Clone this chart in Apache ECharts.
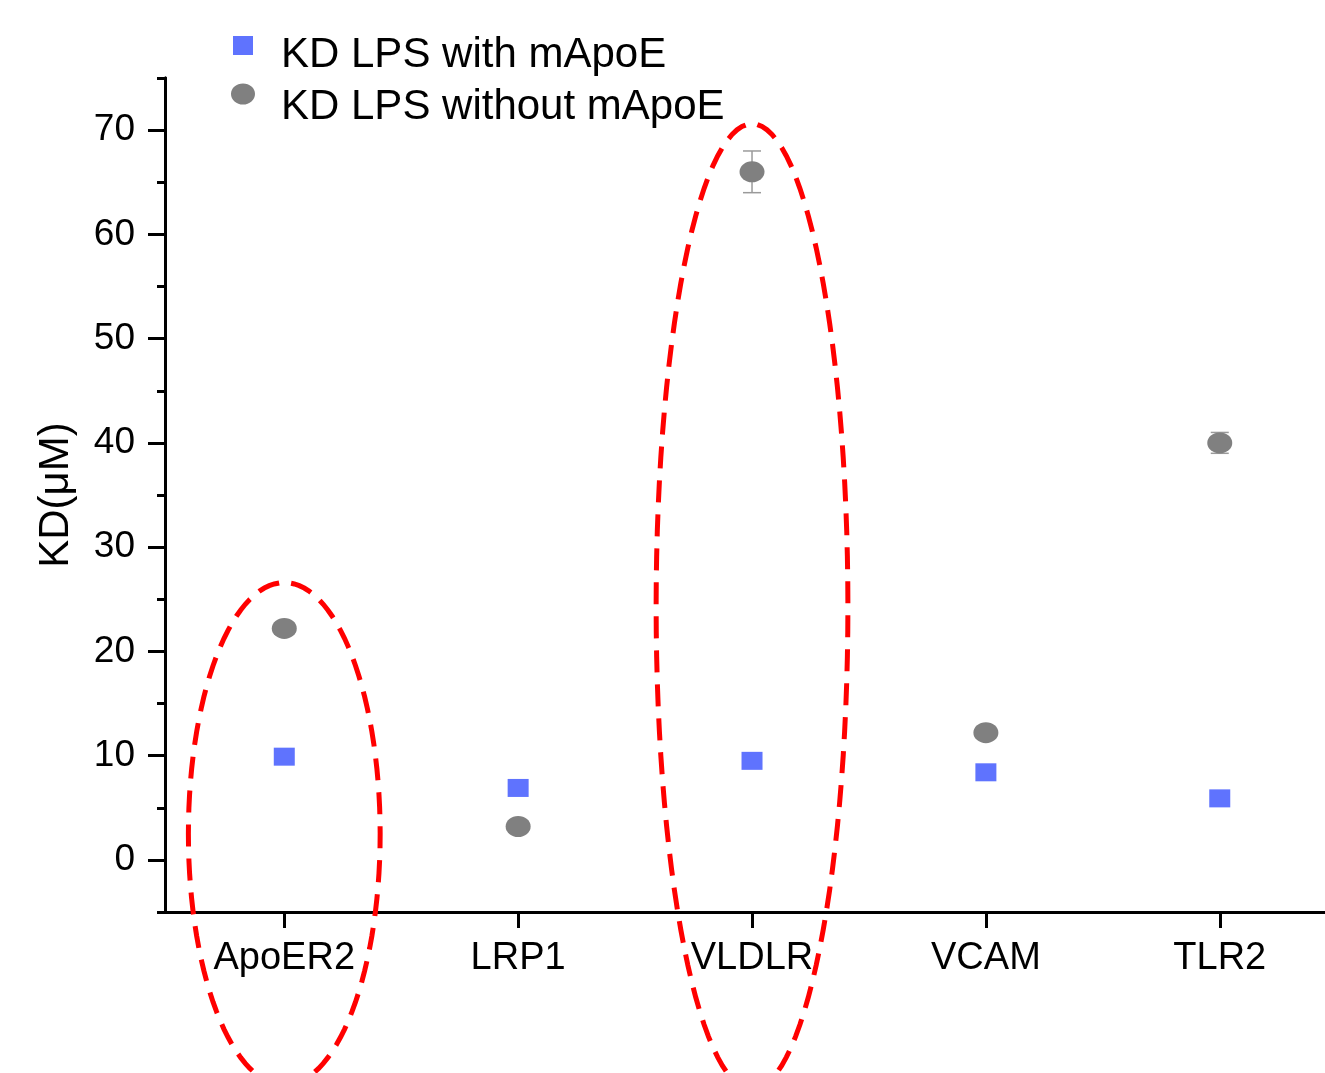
<!DOCTYPE html>
<html>
<head>
<meta charset="utf-8">
<script src="https://cdn.jsdelivr.net/npm/echarts@6/dist/echarts.min.js"></script>
<style>html,body{margin:0;padding:0;background:#fff}#main{width:1325px;height:1073px}</style>
</head>
<body>
<div id="main"></div>
<script>
var categories = ['ApoER2', 'LRP1', 'VLDLR', 'VCAM', 'TLR2'];
var withApoE = [9.9, 6.9, 9.5, 8.4, 5.9];
var withoutApoE = [22.2, 3.2, 66.0, 12.2, 40.0];
var withoutErr = [0, 0, 2.0, 0, 1.0];
var majorTicks = [0, 10, 20, 30, 40, 50, 60, 70];
var minorTicks = [-5, 5, 15, 25, 35, 45, 55, 65, 75];
var catPos = [1, 2, 3, 4, 5];
// dashed rings: category position, centre value, half width, half height
var highlights = [[1, 2.5, 0.41, 24.1], [3, 24.3, 0.41, 46.3]];

var font = 'Liberation Sans, Arial, sans-serif';
var blue = '#5f73fe';
var gray = '#808080';
var ovalPath = 'path://M0,10a12,10 0 1,0 24,0a12,10 0 1,0 -24,0z';
// legend icons sit a little above their text, so pad the icon box with invisible corner points
var legendSquare = 'path://M0,0h0.01M24,50h-0.01M2,6h20v19h-20z';
var legendOval = 'path://M0,0h0.01M24,50h-0.01M0,12a12,10.5 0 1,0 24,0a12,10.5 0 1,0 -24,0z';

var chart = echarts.init(document.getElementById('main'));

var option = {
  animation: false,
  backgroundColor: '#fff',
  grid: { left: 165, right: 0, top: 78, bottom: 161 },
  legend: {
    orient: 'vertical',
    left: 226,
    top: 25,
    itemWidth: 24,
    itemHeight: 50,
    itemGap: 2,
    itemStyle: { borderWidth: 0 },
    textStyle: { fontSize: 42, lineHeight: 44, fontFamily: font, color: '#000', padding: [0, 0, 0, 21] },
    data: [
      { name: 'KD LPS with mApoE', icon: legendSquare },
      { name: 'KD LPS without mApoE', icon: legendOval }
    ]
  },
  xAxis: {
    type: 'value',
    min: 0.49,
    max: 5.45,
    splitLine: { show: false },
    axisLine: { onZero: false, lineStyle: { color: '#000', width: 3 } },
    axisTick: { customValues: catPos, length: 16, lineStyle: { width: 3, color: '#000' } },
    axisLabel: {
      customValues: catPos,
      formatter: function (v) { return categories[Math.round(v) - 1]; },
      fontSize: 38, fontFamily: font, color: '#000', margin: 28
    }
  },
  yAxis: [
    {
      type: 'value',
      min: -5,
      max: 75,
      name: 'KD(μM)',
      nameLocation: 'middle',
      nameGap: 88,
      nameTextStyle: { fontSize: 42, fontFamily: font, color: '#000' },
      splitLine: { show: false },
      axisLine: { show: true, onZero: false, lineStyle: { color: '#000', width: 3 } },
      axisTick: { customValues: majorTicks, length: 17, lineStyle: { width: 3, color: '#000' } },
      axisLabel: { customValues: majorTicks, fontSize: 37, fontFamily: font, color: '#000', margin: 30 }
    },
    {
      type: 'value',
      min: -5,
      max: 75,
      position: 'left',
      splitLine: { show: false },
      axisLine: { show: true, onZero: false, lineStyle: { color: '#000', width: 3 } },
      axisTick: { customValues: minorTicks, length: 8, lineStyle: { width: 3, color: '#000' } },
      axisLabel: { show: false }
    }
  ],
  series: [
    {
      name: 'KD LPS with mApoE',
      type: 'scatter',
      symbol: 'rect',
      symbolSize: [21, 18],
      itemStyle: { color: blue, opacity: 1 },
      data: catPos.map(function (x, i) { return [x, withApoE[i]]; })
    },
    {
      name: 'KD LPS without mApoE',
      type: 'scatter',
      symbol: ovalPath,
      symbolKeepAspect: false,
      symbolSize: [25, 21],
      itemStyle: { color: gray, opacity: 1 },
      data: catPos.map(function (x, i) { return [x, withoutApoE[i]]; })
    },
    {
      name: 'err',
      type: 'custom',
      silent: true,
      data: catPos.map(function (x, i) { return [x, withoutApoE[i], withoutErr[i]]; }),
      renderItem: function (params, api) {
        var x = api.value(0), y = api.value(1), e = api.value(2);
        if (!e) return;
        var top = api.coord([x, y + e]);
        var bot = api.coord([x, y - e]);
        var st = { stroke: '#9a9a9a', lineWidth: 1.5 };
        return {
          type: 'group',
          children: [
            { type: 'line', shape: { x1: top[0], y1: top[1], x2: bot[0], y2: bot[1] }, style: st },
            { type: 'line', shape: { x1: top[0] - 9, y1: top[1], x2: top[0] + 9, y2: top[1] }, style: st },
            { type: 'line', shape: { x1: bot[0] - 9, y1: bot[1], x2: bot[0] + 9, y2: bot[1] }, style: st }
          ]
        };
      },
      z: 1
    },
    {
      name: 'rings',
      type: 'custom',
      silent: true,
      clip: false,
      data: highlights,
      renderItem: function (params, api) {
        var cx = api.value(0), cy = api.value(1), rx = api.value(2), ry = api.value(3);
        var pts = [];
        for (var k = 0; k < 120; k++) {
          var a = -Math.PI / 2 + k / 120 * Math.PI * 2;
          pts.push(api.coord([cx + rx * Math.cos(a), cy + ry * Math.sin(a)]));
        }
        return {
          type: 'polygon',
          shape: { points: pts },
          style: { fill: null, stroke: '#ff0000', lineWidth: 5, lineDash: [22, 12] }
        };
      },
      z: 5
    }
  ]
};

chart.setOption(option);
</script>
</body>
</html>
